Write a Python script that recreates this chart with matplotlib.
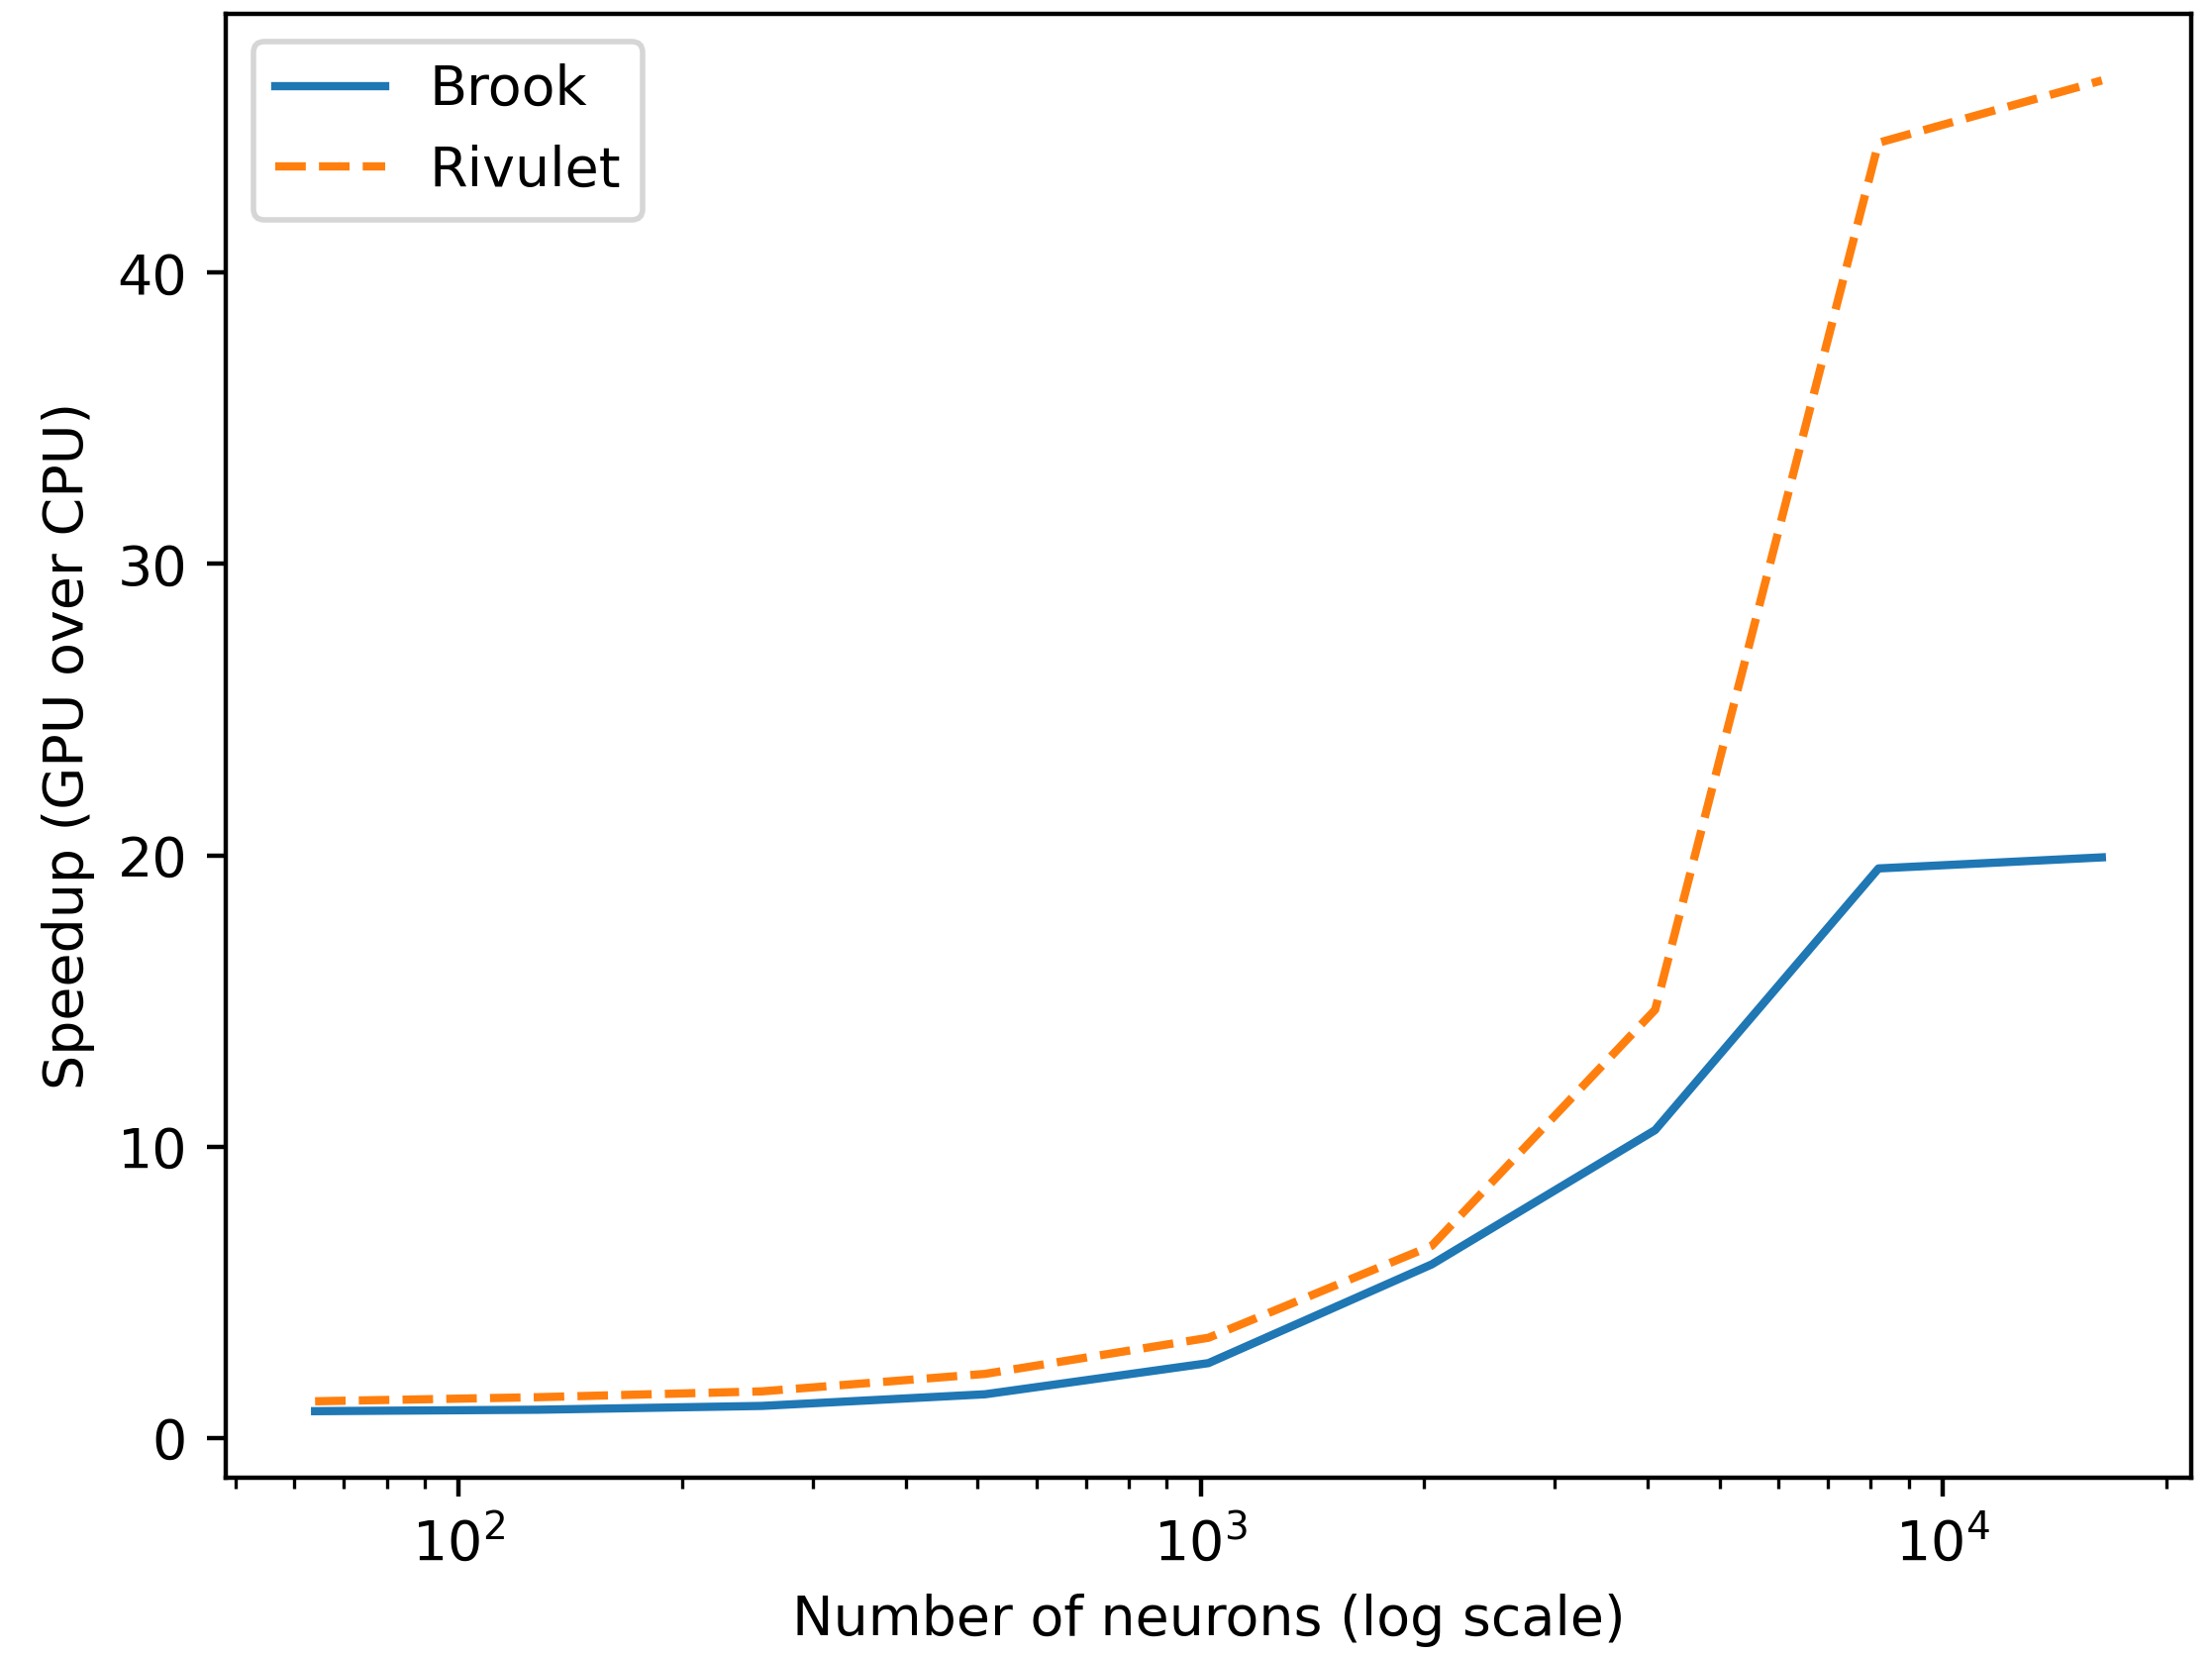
import matplotlib
matplotlib.use("Agg")
import matplotlib.pyplot as plt

neurons = [64, 128, 256, 512, 1024, 2048, 4096, 8192, 16384]
brook = [0.92, 0.97, 1.1, 1.5, 2.57, 5.96, 10.57, 19.55, 19.93]
rivulet = [1.26, 1.4, 1.6, 2.2, 3.44, 6.6, 14.7, 44.46, 46.6]

W, H, DPI = 2234, 1671, 400
fig = plt.figure(figsize=(W / DPI, H / DPI), dpi=DPI)
ax = fig.add_axes([228 / W, 1 - 1492 / H, (2213 - 228) / W, (1492 - 14) / H])
ax.plot(neurons, brook, '-', label='Brook')
ax.plot(neurons, rivulet, '--', label='Rivulet')
ax.set_xscale('log')
ax.set_xlabel('Number of neurons (log scale)')
ax.set_ylabel('Speedup (GPU over CPU)')
ax.legend(loc='upper left')
fig.savefig('out.png', dpi=DPI)
